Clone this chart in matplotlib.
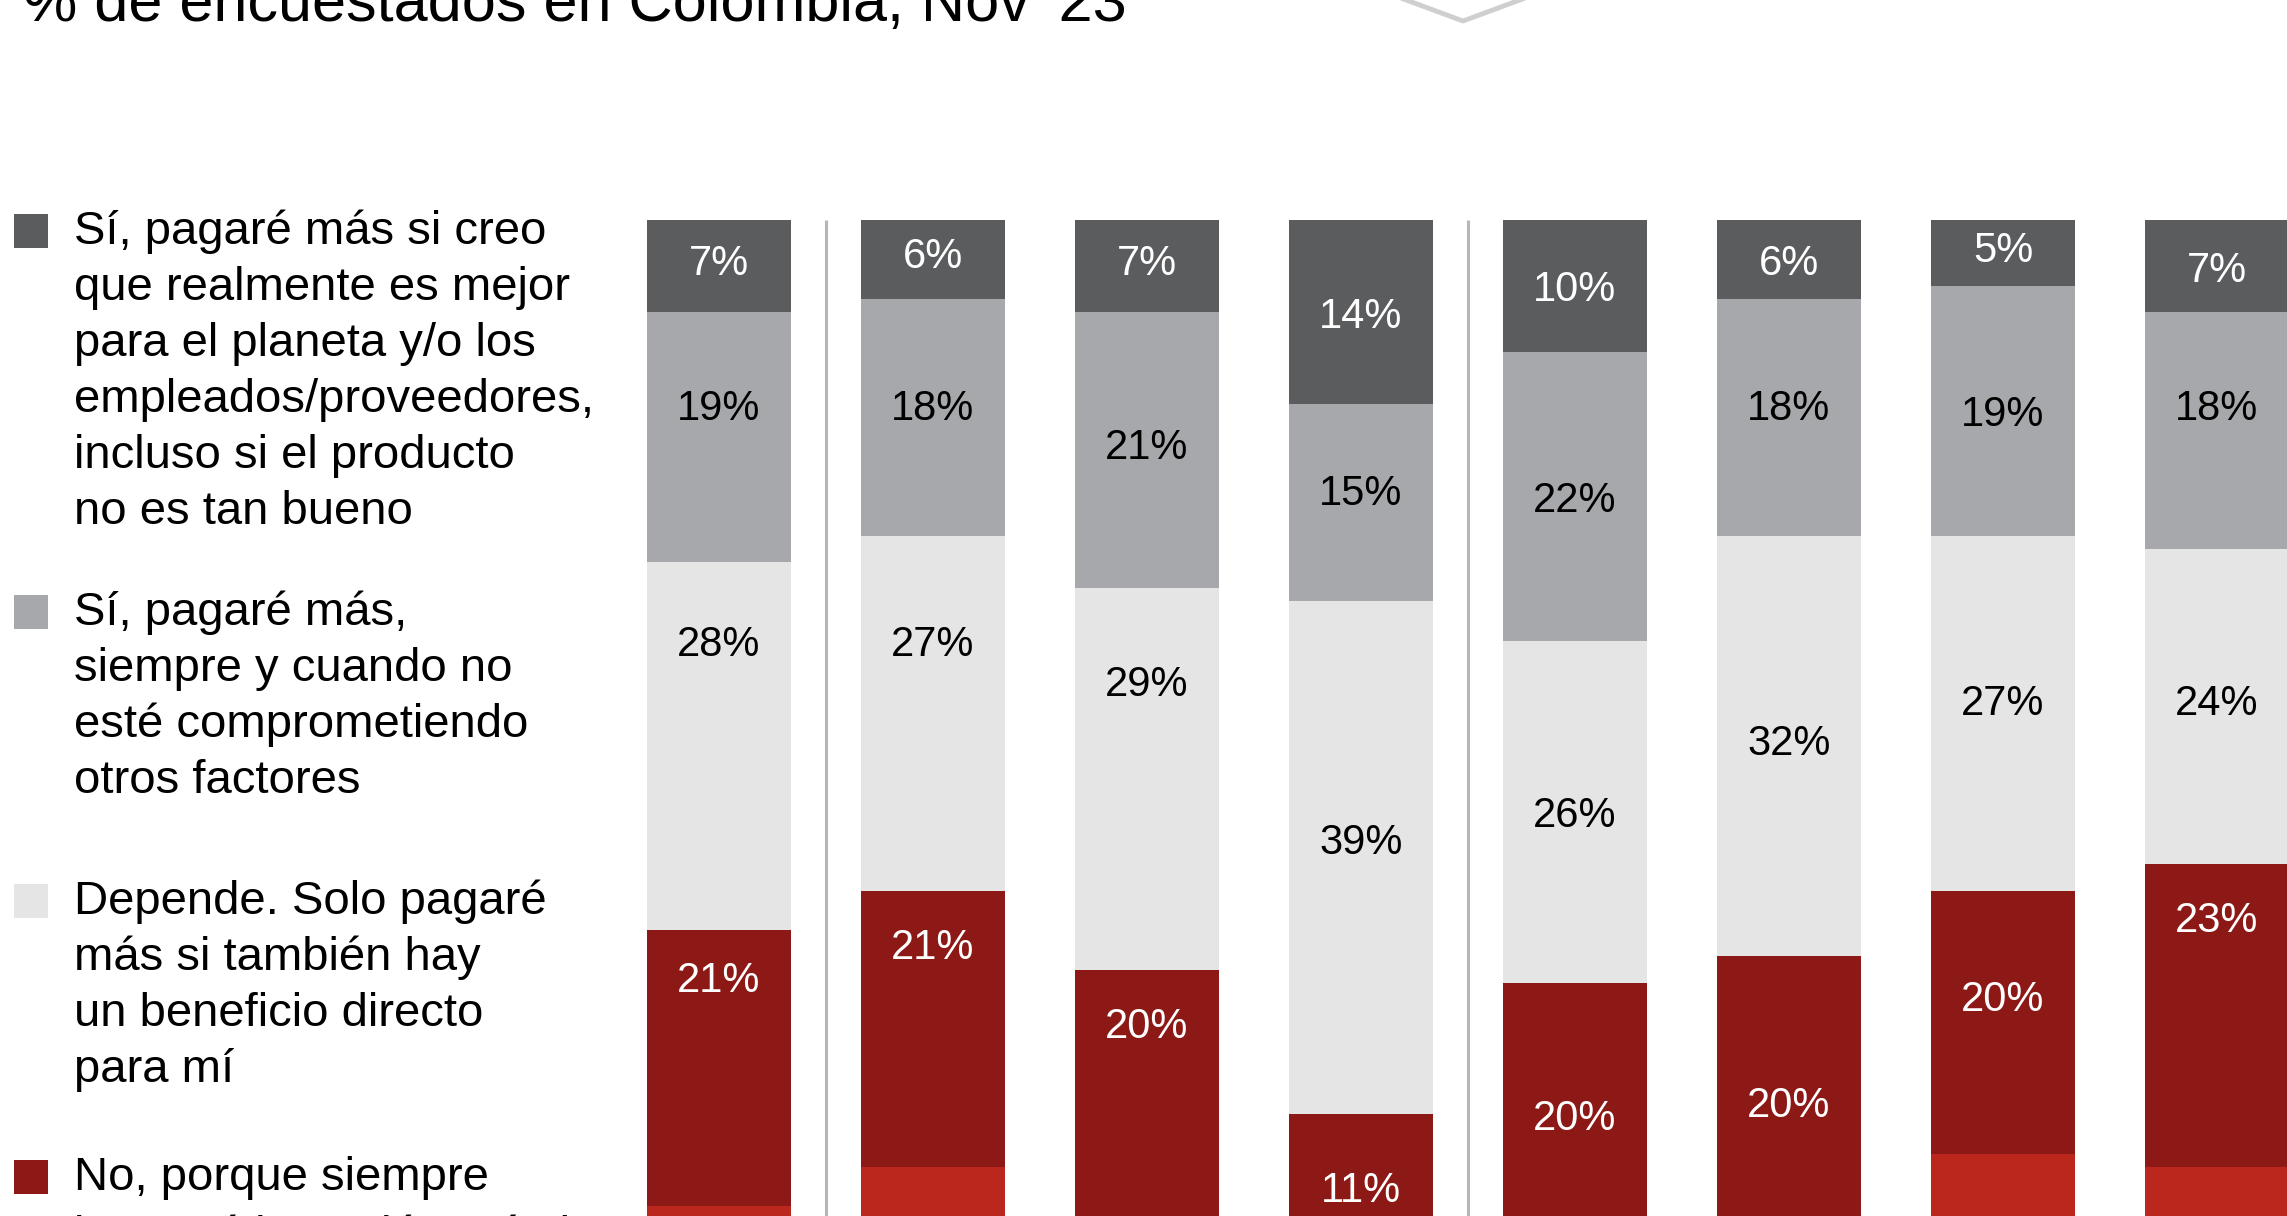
import numpy as np
import matplotlib.pyplot as plt
from matplotlib.patches import Rectangle
from matplotlib.lines import Line2D

# figure size in pixels (saved at dpi=100)
W, H = 2287, 1216

# ----------------------------------------------------
# Data (% de encuestados en Colombia, Nov '23)
# ----------------------------------------------------
bar_ids = [1, 2, 3, 4, 5, 6, 7, 8]   # bar captions are outside the visible crop

si_mejor_planeta = [7, 6, 7, 14, 10, 6, 5, 7]
si_sin_comprometer = [19, 18, 21, 15, 22, 18, 19, 18]
depende = [28, 27, 29, 39, 26, 32, 27, 24]
no_siempre = [21, 21, 20, 11, 20, 20, 20, 23]
resto = [25, 28, 23, 21, 22, 24, 29, 28]   # lower segment, cut off by the crop (estimated)

legend_labels = [
    "Sí, pagaré más si creo\nque realmente es mejor\npara el planeta y/o los\n"
    "empleados/proveedores,\nincluso si el producto\nno es tan bueno",
    "Sí, pagaré más,\nsiempre y cuando no\nesté comprometiendo\notros factores",
    "Depende. Solo pagaré\nmás si también hay\nun beneficio directo\npara mí",
    "No, porque siempre\nbuscaré la opción más barata",
]

title = "% de encuestados en Colombia, Nov '23"

# ----------------------------------------------------
# Styles
# ----------------------------------------------------
colors = ['#5b5c5e', '#a7a8ab', '#e5e5e5', '#8c1915', '#bb261d']
text_colors = ['white', 'black', 'black', 'white']
font = ['Liberation Sans', 'DejaVu Sans']

# small vertical nudges of the value labels (in % units) as placed in the original
label_nudge = np.array([
    [-0.5, -2.5, -8.0, -7.0],
    [-0.5, -1.0, -5.5, -6.5],
    [-0.5, -0.5, -7.5, -6.0],
    [0.0, -1.0, -1.5, 0.0],
    [0.0, 0.0, 0.0, 0.0],
    [0.0, -1.0, -0.5, 1.0],
    [-0.5, 0.0, -1.0, -2.0],
    [0.0, -2.0, -0.5, -7.5],
])

fig = plt.figure(figsize=(W / 100, H / 100), dpi=100)
fig.patch.set_facecolor('white')

# bar area: 0% at y=220px from top, 13.15 px per %, bars 144 px wide every 214 px
top_px = 220
px_per_pct = 13.15
ax_bottom = (H - (top_px + 100 * px_per_pct)) / H
ax_height = 100 * px_per_pct / H
ax = fig.add_axes([0, ax_bottom, 1, ax_height])

first_center = 719
step = 214
x = np.arange(len(bar_ids))
series = [si_mejor_planeta, si_sin_comprometer, depende, no_siempre, resto]

cum = np.zeros(len(x))
for k, (vals, col) in enumerate(zip(series, colors)):
    vals = np.array(vals, dtype=float)
    ax.bar(x, vals, bottom=cum, width=144 / step, color=col, linewidth=0)
    if k < 4:
        for i in range(len(x)):
            ax.text(x[i], cum[i] + vals[i] / 2 + label_nudge[i, k], f"{int(vals[i])}%",
                    ha='center', va='center_baseline', fontsize=30,
                    color=text_colors[k], family=font)
    cum += vals

# separators between groups
ax.vlines([0.5, 3.5], 0, 100, color='#b6b6ba', linewidth=2.2)

ax.set_xlim(-first_center / step, (W - first_center) / step)
ax.set_ylim(100, 0)
ax.axis('off')

# ----------------------------------------------------
# Legend on the left (drawn by hand, line by line)
# ----------------------------------------------------
legend_baselines = [244, 625, 914, 1190]
line_step = 56
for lab, col, base in zip(legend_labels, colors, legend_baselines):
    fig.add_artist(Rectangle((14 / W, 1 - (base + 4) / H), 34 / W, 34 / H,
                             transform=fig.transFigure, color=col, linewidth=0))
    for j, line in enumerate(lab.split('\n')):
        fig.text(74 / W, 1 - (base + j * line_step + (3 if j == 1 and base > 1100 else 0)) / H,
                 line, ha='left', va='baseline', fontsize=34, color='black', family=font)

# title (top part cut off in the original crop)
fig.text(23 / W, 1 - 21 / H, title, ha='left', va='baseline', fontsize=44,
         color='black', family=font)

# grey chevron at the top
fig.add_artist(Line2D([1390 / W, 1463 / W, 1536 / W],
                      [1 + 6 / H, 1 - 21 / H, 1 + 6 / H],
                      transform=fig.transFigure, color='#cfcfcf', linewidth=3.5))

plt.savefig('out.png', dpi=100)
